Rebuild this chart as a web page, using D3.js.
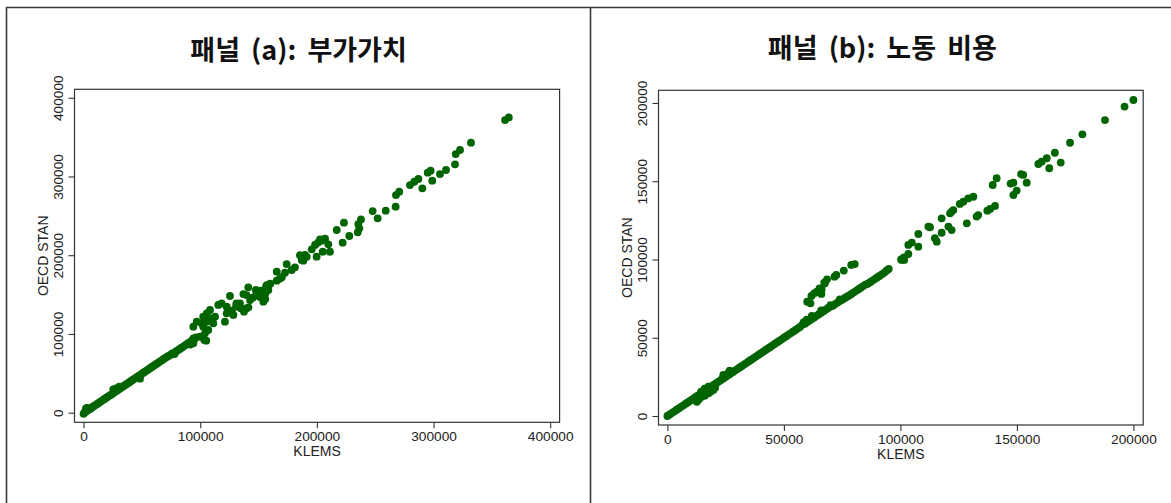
<!DOCTYPE html>
<html><head><meta charset="utf-8">
<script src="https://cdn.jsdelivr.net/npm/d3@7"></script>
<style>body{margin:0;background:#fff}svg{display:block}</style>
</head><body><svg id="c" width="1171" height="503"></svg>
<script>
// ---------- data (values in thousands) ----------
const titleA = "패널 (a): 부가가치";
const titleB = "패널 (b): 노동 비용";
const xLabel = "KLEMS";
const yLabel = "OECD STAN";
const ticksA = [0, 100, 200, 300, 400];
const tickLabelsA = ["0", "100000", "200000", "300000", "400000"];
const ticksB = [0, 50, 100, 150, 200];
const tickLabelsB = ["0", "50000", "100000", "150000", "200000"];

// Panel (a): value added  [KLEMS, OECD STAN]
const valueAddedLine = [
 [0,-1.5],[0.8,0.5],[1.5,1],[2.5,2],[2.1,5.6],[3,6],[4,3.5],[5,5.5],[6,5],[7.5,7],[9,8.5],[10.5,10],[12,11.5],
 [13.5,13],[15,14.5],[16.5,16],[18,17.5],[19.5,19],[21,20.5],[22.5,22],[24,23],[25.5,29.5],[25.5,25],
 [27,26.5],[27.8,31],[28.5,28],[30,29.5],[30.7,33],[31.5,31],[33,32.5],[34.5,34],[36,35.5],[37.5,37],
 [39,38.5],[40.5,40],[42,41.5],[43.5,43],[45,44.5],[46.5,46],[48.4,43.2],[48,47.5],[49.5,49],[51,50.5],
 [52.5,52],[54,53.5],[55.5,55],[57,56.5],[58.5,58],[60,59.5],[61.5,61],[63,62.5],[64.5,64],[66,65.5],
 [67.5,67],[69,68.5],[70.5,70],[72,71.5],[73.5,72.5],[75,74],[76.5,75.5],[78,74.5],[79.5,78],[81,79.5],
 [82.5,81],[84,82.5],[85.5,84],[87,85.5],[88.5,87],[90,88.5],[91.5,86.5],[92,90.5],[93.5,92],[95,93.5],
 [94.1,88.1],[96.5,95.5]
];
const valueAddedScatter = [
 [361.3,371.6],[364.5,375],[332.1,342.9],[322.7,333.6],[319,328.5],[318.4,315.4],[310.7,308.2],[305.5,303.1],
 [297.5,307.3],[295,304.8],[298.9,294.6],[290.4,285],[287,296.8],[283.5,293.3],[279.8,289.1],[270.6,280.6],
 [267.8,276.4],[267.5,261.6],[259,256.5],[247.8,256.1],[252.1,246.8],[237.8,245.5],[235.5,239.6],[236.4,234.1],
 [235,229],[223.2,241.3],[217,232],[227.8,224.4],[222.1,215.9],[202.7,220.2],[198.4,213],[195.6,207.5],
 [209.8,213.8],[211.2,204.4],[205,204.4],[199.8,198.1],[189.8,200.3],[187,193.9],[201,216],[204,218.5],[207,221],
 [191.3,198],[188.4,193],[185.5,200],[181.2,184.6],[178.4,181.2],[174.1,188.8],[172.7,177.8],[165.6,179.1],
 [165.6,167.6],[159.8,163.4],[156.4,160],[158.4,155.8],[154.1,151.6],[151.2,147.3],[154.1,141],[141.2,159.2],
 [137,150.7],[142.7,143.1],[139.8,132.6],[137.5,128.3],[134.1,138.8],[130.7,134.6],[125.5,148.2],[118.4,138.8],
 [115.5,136.8],[122.7,134.6],[121.2,115.6],[127,129.5],[128.4,124.1],[122.7,126.2],[108.4,130.4],[105.6,126.2],
 [102.6,121.9],[108.4,119.9],[112.7,121.9],[111.2,113.5],[105.6,115.6],[101.3,113.5],[106.9,105],[102.6,109.2],
 [94.1,109.2],[97,115.6],[104.1,100.8],[99.8,96.5],[94.1,94.5],[103.5,92.3],[105.2,91.4],
 [147.7,155.8],[149.4,151.5],[155.8,151.5],[158.1,159.2],[155.8,144.3],[151,147.3],[139.7,149.4],[131,138.8],
 [134.8,132.5],[141.3,133.8],[145,146],[148,150],[152,155],[157,162],[160,164],[168,170],[170,172]
];

// Panel (b): labour cost  [KLEMS, OECD STAN]
const laborCostLine = [
 [0,0],[1,1],[2,2],[3,3],[4,4],[5,5],[6,6],[7,7],[8,8],[9,9],[10,10],[11,11],[12,12],[13,13],[14,14],
 [15,15],[16,16],[17,17],[18,18],[19,19],[20,20],[21,21],[22,22],[23,23],[24,24],[25,25],[26,26],[27,27],
 [28,28],[29,29],[30,30],[31,31],[32,32],[33,33],[34,34],[35,35],[36,36],[37,37],[38,38],[39,39],[40,40],
 [41,41],[42,42],[43,43],[44,44],[45,45],[46,46],[47,47],[48,48],[49,49],[50,50],[51,51],[52,52],[53,53],
 [54,54],[55,55],[56,56],[57,57],[58,58.5],[58.5,60],[59,59],[59.8,61.5],[60,60],[61,61],[62,62],[62,64],
 [63,63],[64,64],[65,65],[66,66],[66,67.5],[67,67],[68,68],[69,69],[70,70],[70,70.8],[71,70.5],[72,71.5],
 [73,72.5],[74,73.5],[74,74.5],[75,74.2],[76,75.3],[77,76.2],[78,77],[79,78],[80,79],[81,80],[82,81],
 [83,82],[84,83],[85,84],[86,84.5],[87,85.5],[88,86.5],[89,87.5],[90,88.5],[91,89.5],[92,90.5],[93,91.5],
 [94,92.8],[95,94]
];
const laborCostScatter = [
 [12.6,9.1],[13.5,10.5],[14.7,12.3],[16,13],[17.6,14.5],[18.5,15.5],[19.7,16.6],[20.5,18],
 [14.5,15.5],[16,17.5],[17.6,18.7],[24,25.1],[24,26.2],[26.1,27.3],[26.7,29],
 [60,73],[61.4,72],[61.8,76.7],[63,78.4],[64.1,79.4],[65.3,81.6],[66.2,81],[66.1,78],[67.6,84.8],[68.5,87.3],
 [67.3,85.2],[71.7,89],[72.5,90.1],[75.7,92.9],[78.9,96.5],[80.4,97.1],
 [200,201.9],[196.2,197.7],[187.8,189.1],[178.1,180],[172.8,174.6],[166.3,168.2],[162.8,164.7],[160.6,162.5],
 [159.2,161],[163.9,158.3],[168.8,161.9],[152.7,154],[151.8,154.6],[154.2,149.1],[148.5,149.1],[147.3,148.5],
 [149.9,144],[148.5,141.2],[141.3,151.9],[139.6,147.6],[140.6,134.2],[138.5,132.3],[137.3,131.2],[131.3,140.1],
 [129.1,139],[127,136.9],[125.5,135.5],[122.7,131.6],[122,130.6],[121.3,129.5],[132.7,127.4],[133.4,128.4],
 [128.5,123.1],[122,118.8],[120.6,121],[117.7,126.3],[117.7,117.1],[115.6,111.4],[114.8,113.6],[112.7,120.6],
 [112,121],[107.7,116.3],[104.9,110.8],[103.4,109.3],[107.7,108.2],[103.4,103.5],[101.5,101.4],[100.5,99.7],
 [100.3,100.1],[101.6,99.7]
];

// ---------- layout ----------
const svg = d3.select("#c");
const GREEN = "#006400";
const INK = "#222";

// outer frame
svg.append("path")
  .attr("d", "M6.5,510 V7.5 H1180 M590.5,7.5 V510")
  .attr("fill", "none").attr("stroke", "#3a3a3a").attr("stroke-width", 1.6);

function panel(cfg, pts, ticks, labels, title) {
  const x = d3.scaleLinear().domain(cfg.xd).range([cfg.left, cfg.right]);
  const y = d3.scaleLinear().domain(cfg.yd).range([cfg.bottom, cfg.top]);
  const g = svg.append("g");

  g.append("g").selectAll("circle").data(pts).join("circle")
    .attr("cx", d => x(d[0])).attr("cy", d => y(d[1]))
    .attr("r", 3.9).attr("fill", GREEN);

  g.append("rect")
    .attr("x", cfg.left).attr("y", cfg.top)
    .attr("width", cfg.right - cfg.left).attr("height", cfg.bottom - cfg.top)
    .attr("fill", "none").attr("stroke", "#333").attr("stroke-width", 1.2);

  const fontTick = "13.7px 'Liberation Sans', Arial, sans-serif";

  const xa = g.append("g").attr("transform", `translate(0,${cfg.bottom})`)
    .call(d3.axisBottom(x).tickValues(ticks).tickFormat((d, i) => labels[i]).tickSize(6).tickSizeOuter(0));
  xa.select(".domain").remove();
  xa.selectAll("line").attr("stroke", "#333").attr("stroke-width", 1.1);
  xa.selectAll("text").attr("y", 18.7).attr("dy", null)
    .style("font", fontTick).attr("fill", INK);

  const ya = g.append("g").attr("transform", `translate(${cfg.left},0)`)
    .call(d3.axisLeft(y).tickValues(ticks).tickFormat((d, i) => labels[i]).tickSize(6).tickSizeOuter(0));
  ya.select(".domain").remove();
  ya.selectAll("line").attr("stroke", "#333").attr("stroke-width", 1.1);
  ya.selectAll("text").attr("x", null).attr("dy", null)
    .attr("transform", "translate(-12,0) rotate(-90)")
    .attr("text-anchor", "middle")
    .style("font", fontTick).attr("fill", INK);

  g.append("text")
    .attr("x", (cfg.left + cfg.right) / 2).attr("y", cfg.bottom + 34)
    .attr("text-anchor", "middle").style("font", "14px 'Liberation Sans', Arial, sans-serif")
    .attr("fill", INK).text(xLabel);

  g.append("text")
    .attr("transform", `translate(${cfg.left - 26.5},${(cfg.top + cfg.bottom) / 2}) rotate(-90)`)
    .attr("text-anchor", "middle").style("font", "14px 'Liberation Sans', Arial, sans-serif")
    .attr("fill", INK).text(yLabel);

  g.append("text")
    .attr("x", (cfg.left + cfg.right) / 2 - 18.5).attr("y", cfg.titleY)
    .attr("text-anchor", "middle")
    .style("font", "bold 27px 'Noto Sans CJK KR', sans-serif")
    .style("word-spacing", "5px")
    .attr("fill", "#111").text(title);
}

panel({left: 74.5, right: 559.6, top: 89.3, bottom: 422.3, xd: [-7.76, 408.05], yd: [-12.2, 410.7], titleY: 60},
      valueAddedLine.concat(valueAddedScatter), ticksA, tickLabelsA, titleA);
panel({left: 658.5, right: 1143.2, top: 90.3, bottom: 425, xd: [-3.82, 204.2], yd: [-5.75, 208.1], titleY: 58},
      laborCostLine.concat(laborCostScatter), ticksB, tickLabelsB, titleB);
</script></body></html>
